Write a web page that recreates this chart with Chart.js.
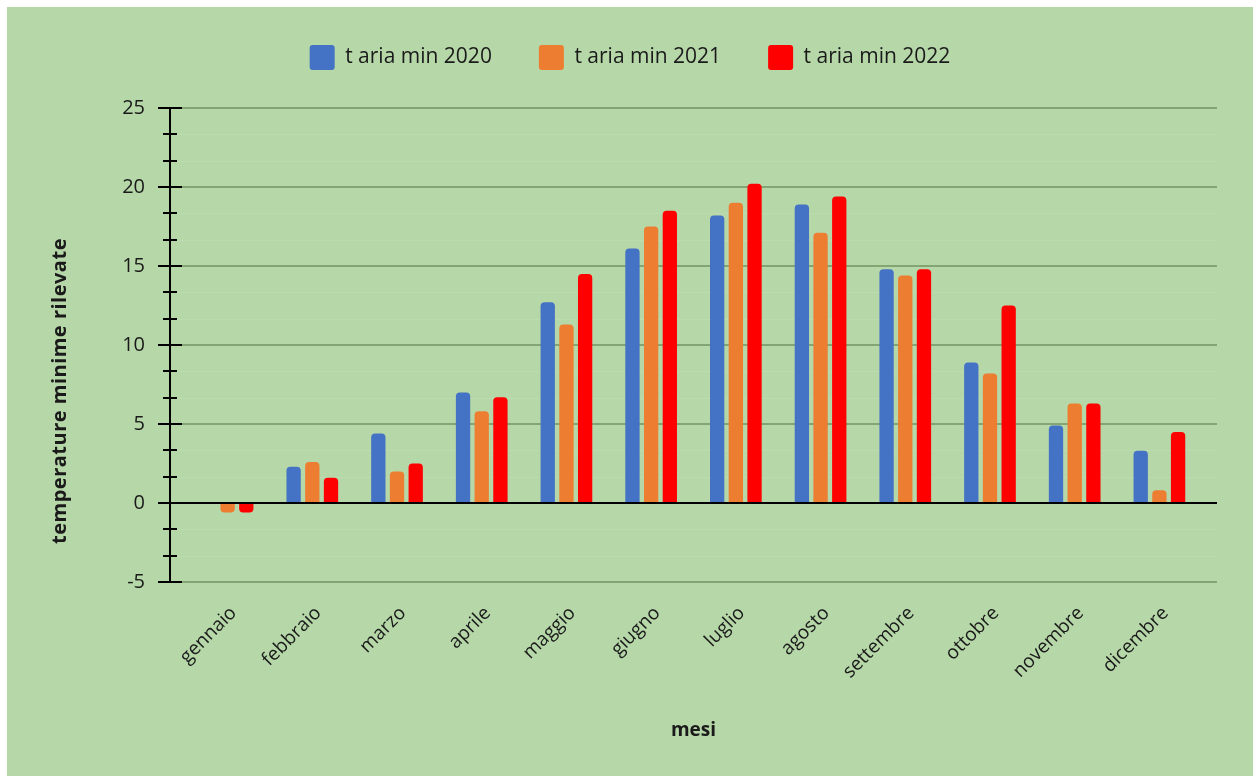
<!DOCTYPE html>
<html lang="it">
<head>
<meta charset="utf-8">
<title>Temperature minime rilevate</title>
<script src="https://cdn.jsdelivr.net/npm/chart.js@4.4.1/dist/chart.umd.min.js"></script>
<style>
  html, body { margin: 0; padding: 0; background: #fff; }
  #frame { position: absolute; left: 7px; top: 7px; width: 1246px; height: 769px; background: #b6d7a8; }
  canvas { display: block; }
</style>
</head>
<body>
<div id="frame"><canvas id="tempChart" width="1246" height="769"></canvas></div>
<script>
// --- Dati ---
const mesi = ['gennaio', 'febbraio', 'marzo', 'aprile', 'maggio', 'giugno',
              'luglio', 'agosto', 'settembre', 'ottobre', 'novembre', 'dicembre'];
const tMin2020 = [null, 2.3, 4.4, 7.0, 12.7, 16.1, 18.2, 18.9, 14.8, 8.9, 4.9, 3.3];
const tMin2021 = [-0.6, 2.6, 2.0, 5.8, 11.3, 17.5, 19.0, 17.1, 14.4, 8.2, 6.3, 0.8];
const tMin2022 = [-0.6, 1.6, 2.5, 6.7, 14.5, 18.5, 20.2, 19.4, 14.8, 12.5, 6.3, 4.5];
const serie = ['t aria min 2020', 't aria min 2021', 't aria min 2022'];
const colori = ['#4472c4', '#ed7d31', '#ff0000'];

const Y_MIN = -5;
const Y_MAX = 25;
const Y_STEP = 5;

const FONT = '"Open Sans", "Noto Sans", sans-serif';
const TEXT = '#1a1a1a';
const GRID = '#83a573';

// extra space around the month groups, in category units
const CAT_PAD = 0.18;

// more room between legend and plot
const legendGap = {
    id: 'legendGap',
    beforeInit(chart) {
        const fit = chart.legend.fit;
        chart.legend.fit = function () {
            fit.call(chart.legend);
            this.height += 28;
        };
    }
};

// minor white lines, ticks crossing the y axis, vertical axis title
const axisExtras = {
    id: 'axisExtras',
    beforeDatasetsDraw(chart) {
        const { ctx, chartArea } = chart;
        const y = chart.scales.y;
        const minor = Y_STEP / 3;
        ctx.save();
        ctx.strokeStyle = 'rgba(255,255,255,0.1)';
        ctx.lineWidth = 1;
        for (let v = Y_MIN + minor; v < Y_MAX; v += minor) {
            if (Math.abs(v / Y_STEP - Math.round(v / Y_STEP)) < 0.01) continue;
            const py = Math.round(y.getPixelForValue(v)) + 0.5;
            ctx.beginPath();
            ctx.moveTo(chartArea.left, py);
            ctx.lineTo(chartArea.right, py);
            ctx.stroke();
        }
        ctx.restore();
    },
    afterDraw(chart) {
        const { ctx, chartArea } = chart;
        const y = chart.scales.y;
        const x0 = chartArea.left;
        const minor = Y_STEP / 3;
        const n = Math.round((Y_MAX - Y_MIN) / minor);
        ctx.save();
        ctx.strokeStyle = '#000';
        ctx.lineWidth = 2;
        for (let i = 0; i <= n; i++) {
            const py = Math.round(y.getPixelForValue(Y_MIN + i * minor));
            const len = i % 3 === 0 ? 12 : 7;
            ctx.beginPath();
            ctx.moveTo(x0 - len, py);
            ctx.lineTo(x0 + len, py);
            ctx.stroke();
        }
        // titolo asse y
        ctx.translate(53, 384);
        ctx.rotate(-Math.PI / 2);
        ctx.fillStyle = TEXT;
        ctx.font = 'bold 20px ' + FONT;
        ctx.letterSpacing = '0.5px';
        ctx.textAlign = 'center';
        ctx.textBaseline = 'middle';
        ctx.fillText('temperature minime rilevate', 0, 0);
        ctx.restore();
    }
};

const datasets = [tMin2020, tMin2021, tMin2022].map((values, i) => ({
    label: serie[i],
    data: values,
    backgroundColor: colori[i],
    borderWidth: 0,
    borderRadius: 4,
    categoryPercentage: 0.662,
    barPercentage: 0.765
}));

new Chart(document.getElementById('tempChart'), {
    type: 'bar',
    data: { labels: mesi, datasets },
    plugins: [legendGap, axisExtras],
    options: {
        responsive: false,
        animation: false,
        layout: { padding: { top: -9, right: 0, bottom: 0, left: 0 } },
        plugins: {
            tooltip: { enabled: false },
            legend: {
                position: 'top',
                labels: {
                    boxWidth: 25,
                    boxHeight: 25,
                    useBorderRadius: true,
                    borderRadius: 3,
                    padding: 47,
                    color: TEXT,
                    font: { family: FONT, size: 21 }
                }
            }
        },
        scales: {
            x: {
                afterBuildTicks(scale) {
                    scale._startValue -= CAT_PAD;
                    scale._valueRange += 2 * CAT_PAD;
                },
                afterFit(scale) { scale.height = 194; },
                grid: { display: false },
                border: { display: false },
                ticks: {
                    autoSkip: false,
                    minRotation: 45,
                    maxRotation: 45,
                    padding: 12,
                    labelOffset: 6,
                    color: TEXT,
                    font: { family: FONT, size: 19 }
                },
                title: {
                    display: true,
                    text: 'mesi',
                    color: TEXT,
                    font: { family: FONT, size: 19, weight: 'bold' },
                    padding: { top: 0, bottom: 34 }
                }
            },
            y: {
                min: Y_MIN,
                max: Y_MAX,
                afterFit(scale) { scale.width = 163; },
                ticks: {
                    stepSize: Y_STEP,
                    padding: 25,
                    color: TEXT,
                    font: { family: FONT, size: 20 }
                },
                grid: {
                    drawTicks: false,
                    lineWidth: 2,
                    color: ctx => ctx.tick && ctx.tick.value === 0 ? '#000' : GRID
                },
                border: { color: '#000', width: 2 }
            },
            // empty right margin, so the legend stays centred on the whole frame
            margineDx: {
                position: 'right',
                afterFit(scale) { scale.width = 36; },
                ticks: { display: false },
                grid: { display: false },
                border: { display: false }
            }
        }
    }
});
</script>
</body>
</html>
